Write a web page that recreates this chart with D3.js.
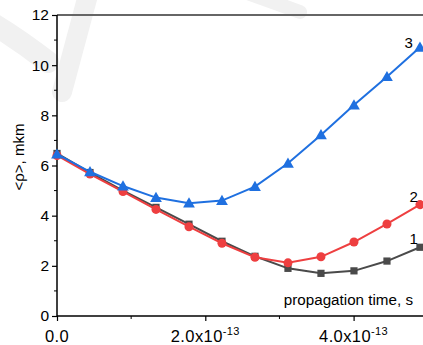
<!DOCTYPE html>
<html>
<head>
<meta charset="utf-8">
<script src="https://cdn.jsdelivr.net/npm/d3@7"></script>
<style>
  html, body { margin: 0; padding: 0; background: #fff; }
  svg { display: block; font-family: "Liberation Sans", Arial, sans-serif; }
</style>
</head>
<body>
<svg id="chart" width="423" height="345"></svg>
<script>
// propagation time, units of 1e-13 s
const times = [0, 0.445, 0.89, 1.335, 1.78, 2.225, 2.67, 3.115, 3.56, 4.005, 4.45, 4.895];
const series1 = [6.48, 5.72, 5.0, 4.33, 3.66, 2.98, 2.38, 1.9, 1.7, 1.8, 2.19, 2.74];
const series2 = [6.4, 5.66, 4.96, 4.25, 3.56, 2.9, 2.34, 2.12, 2.36, 2.95, 3.67, 4.44];
const series3 = [6.45, 5.75, 5.18, 4.72, 4.5, 4.6, 5.16, 6.09, 7.22, 8.41, 9.54, 10.71];
const yTicks = [0, 2, 4, 6, 8, 10, 12];
const yMinor = [1, 3, 5, 7, 9, 11];
const xTicks = [0, 2, 4];
const xMinor = [1, 3];
const curveLabels = ["1", "2", "3"];

const svg = d3.select("#chart");
const plotLeft = 57, plotTop = 15, plotBottom = 316;

const x = d3.scaleLinear().domain([0, 5]).range([plotLeft, plotLeft + 5 * 74.15]);
const y = d3.scaleLinear().domain([0, 12]).range([plotBottom, plotTop]);

// faint watermark in background
const wm = svg.append("g").attr("fill", "none").attr("stroke", "#f1f1f1")
    .attr("stroke-linecap", "round");
wm.append("path").attr("d", "M-10,22 Q20,40 48,62").attr("stroke-width", 22);
wm.append("path").attr("d", "M88,-5 L62,92").attr("stroke-width", 20);
wm.append("path").attr("d", "M250,-6 L300,12").attr("stroke-width", 14);

// top frame line
svg.append("line")
    .attr("x1", plotLeft).attr("x2", 423)
    .attr("y1", y(12)).attr("y2", y(12))
    .attr("stroke", "#666").attr("stroke-width", 2);

// y axis
const yAxis = svg.append("g").attr("transform", `translate(${plotLeft},0)`)
    .call(d3.axisLeft(y).tickValues(yTicks).tickSize(5).tickPadding(3).tickFormat(d3.format("d")));
yAxis.select(".domain").remove();
yAxis.selectAll(".tick line").attr("stroke", "#000").attr("stroke-width", 1.2);
yAxis.selectAll(".tick text").attr("font-size", 15.5).attr("fill", "#000")
    .style("font-family", "Liberation Sans, Arial, sans-serif");
svg.append("g").selectAll("line").data(yMinor).join("line")
    .attr("x1", plotLeft - 3).attr("x2", plotLeft)
    .attr("y1", d => y(d)).attr("y2", d => y(d))
    .attr("stroke", "#000").attr("stroke-width", 1);
svg.append("line").attr("x1", plotLeft).attr("x2", plotLeft)
    .attr("y1", plotTop).attr("y2", plotBottom + 0.5)
    .attr("stroke", "#000").attr("stroke-width", 1.5);

// x axis
const xAxis = svg.append("g").attr("transform", `translate(0,${plotBottom})`)
    .call(d3.axisBottom(x).tickValues(xTicks).tickSize(5).tickFormat(""));
xAxis.select(".domain").remove();
xAxis.selectAll(".tick line").attr("stroke", "#000").attr("stroke-width", 1.2);
svg.append("g").selectAll("line").data(xMinor).join("line")
    .attr("x1", d => x(d)).attr("x2", d => x(d))
    .attr("y1", plotBottom).attr("y2", plotBottom + 3)
    .attr("stroke", "#000").attr("stroke-width", 1);
svg.append("line").attr("x1", plotLeft).attr("x2", 423)
    .attr("y1", plotBottom).attr("y2", plotBottom)
    .attr("stroke", "#000").attr("stroke-width", 1.5);

xTicks.forEach(t => {
  const txt = svg.append("text")
      .attr("x", x(t)).attr("y", 342)
      .attr("text-anchor", "middle").attr("font-size", 16.5).attr("fill", "#000")
      .attr("letter-spacing", 0.4);
  if (t === 0) {
    txt.text("0.0");
  } else {
    txt.append("tspan").text(t.toFixed(1) + "x10");
    txt.append("tspan").attr("font-size", 11).attr("dy", -7).text("-13");
  }
});

// axis titles
svg.append("text")
    .attr("transform", "translate(24,157) rotate(-90)")
    .attr("text-anchor", "middle").attr("font-size", 15).attr("fill", "#000")
    .text("<ρ>, mkm");
svg.append("text")
    .attr("x", 413).attr("y", 305)
    .attr("text-anchor", "end").attr("font-size", 15.2).attr("fill", "#000")
    .text("propagation time, s");

// series
const line = d3.line().x((d, i) => x(times[i])).y(d => y(d));
const defs = [
  { data: series1, color: "#4a4a4a", shape: d3.symbolSquare, size: 52, dx: -2, dy: -3 },
  { data: series2, color: "#ee3f40", shape: d3.symbolCircle, size: 64, dx: -2, dy: -3 },
  { data: series3, color: "#1f70e0", shape: d3.symbolTriangle, size: 60, dx: -7, dy: 1 }
];

defs.forEach((s, k) => {
  const g = svg.append("g");
  g.append("path").datum(s.data)
      .attr("d", line).attr("fill", "none")
      .attr("stroke", s.color).attr("stroke-width", 2);
  g.selectAll("path.m").data(s.data).join("path")
      .attr("class", "m")
      .attr("transform", (d, i) => `translate(${x(times[i])},${y(d) + (k === 2 ? 1 : 0)})`)
      .attr("d", d3.symbol().type(s.shape).size(s.size))
      .attr("fill", s.color);
  // curve number label
  const last = s.data[s.data.length - 1];
  g.append("text")
      .attr("x", x(times[times.length - 1]) + s.dx)
      .attr("y", y(last) + s.dy)
      .attr("text-anchor", "end").attr("font-size", 15).attr("fill", "#000")
      .text(curveLabels[k]);
});
</script>
</body>
</html>
